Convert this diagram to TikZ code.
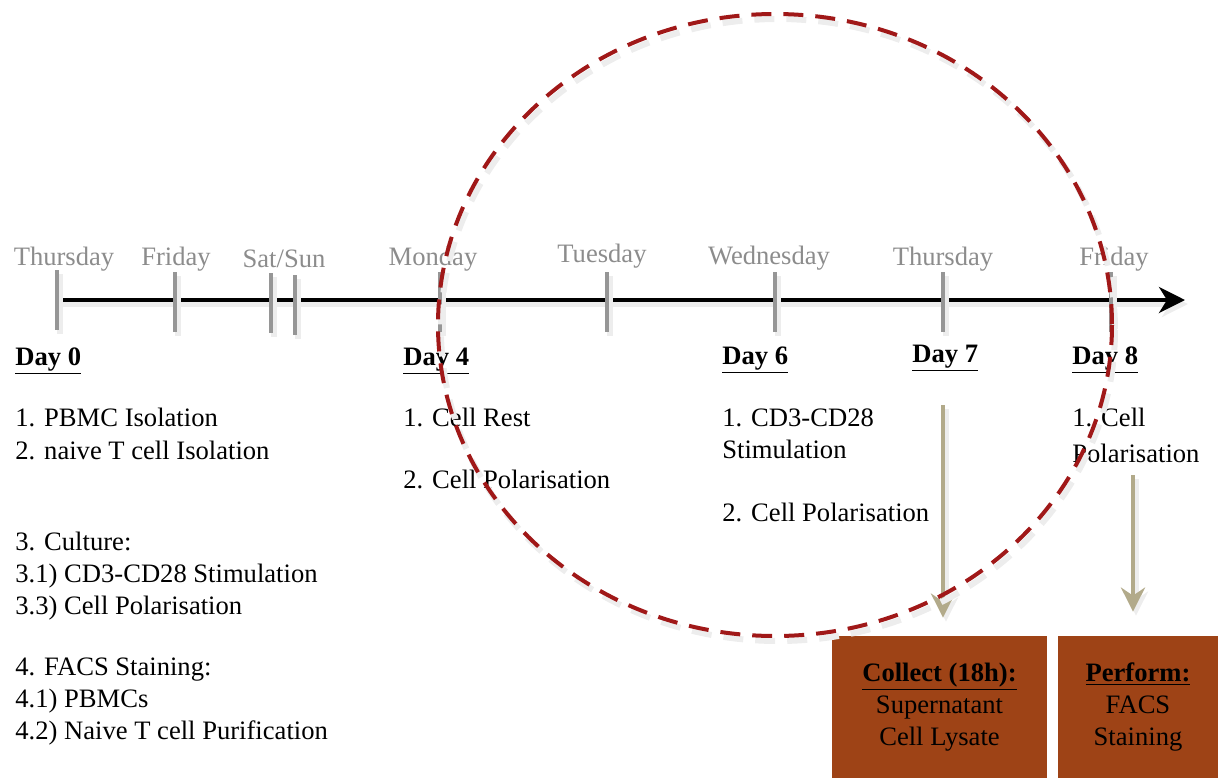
\documentclass[tikz,border=0pt]{standalone}
\usepackage{fontspec}
\setmainfont{Liberation Serif}
\usetikzlibrary{positioning,arrows.meta}
\definecolor{daygray}{RGB}{140,140,140}
\definecolor{tickgray}{RGB}{150,150,150}
\definecolor{boxbrown}{RGB}{158,67,22}
\definecolor{arrowtan}{RGB}{178,170,138}
\definecolor{ringred}{RGB}{160,24,24}

\begin{document}
\begin{tikzpicture}[x=0.5pt,y=-0.5pt,
  every node/.style={font=\fontsize{13.3}{16}\selectfont, inner sep=0pt},
  txt/.style={anchor=base west},
  weekday/.style={anchor=base, text=daygray},
  dayhead/.style={anchor=base west, font=\fontsize{13.3}{16}\selectfont\bfseries},
  tick/.style={draw=tickgray, line width=2pt},
  shade/.style={preaction={draw=black!7, line width=3pt, transform canvas={xshift=1.5pt,yshift=-2pt}}},
  ringshade/.style={preaction={draw=black!7, line width=3pt, dash pattern=on 10pt off 6pt,
                               transform canvas={xshift=1.5pt,yshift=-2.5pt}}},
  stepbox/.style={fill=boxbrown, align=center, minimum height=71pt},
  down/.style={draw=arrowtan, line width=2pt, -{Stealth[length=12pt,width=12pt,inset=4pt]}}
]
\useasboundingbox (0,0) rectangle (1223,778);

% Time line
\coordinate (t0) at (57,300);
\coordinate (tend) at (1185,300);
\draw[line width=2pt, -{Stealth[length=13pt,width=13pt,inset=4pt]}, shade] (t0) -- (tend);

% Ticks
\foreach \x/\a/\b in {57/270/330, 175/272/332, 271/273/333, 295/275/335, 440/272/332,
                      607/272/332, 775/272/332, 943/272/332, 1111/272/332} {
  \draw[tick, shade] (\x,\a) -- (\x,\b);
}

% Weekdays
\foreach \x/\y/\name/\lbl in {64/256/thuA/Thursday, 176/256/friA/Friday,
                              433/256/mon/Monday, 602/253/tue/Tuesday, 769/255/wed/Wednesday,
                              943/256/thuB/Thursday, 1114/256/friB/Friday} {
  \node[weekday] (\name) at (\x,\y+9) {\lbl};
}
\node[weekday] (satsun) at (284,267) {Sat/Sun};

% Day headers
\node[dayhead] (day0) at (15,365) {\underline{Day 0}};
\node[dayhead] (day4) at (403,365) {\underline{Day 4}};
\node[dayhead] (day6) at (722,364) {\underline{Day 6}};
\node[dayhead] (day7) at (912,362) {\underline{Day 7}};
\node[dayhead] (day8) at (1072,364) {\underline{Day 8}};

% Day 0 tasks
\foreach \y/\name/\lbl in {417/pbmc/1. PBMC Isolation, 450/naive/2. naive T cell Isolation,
                           541/cult/3. Culture:, 573/stim/3.1) CD3-CD28 Stimulation,
                           605/polA/3.3) Cell Polarisation, 666/facs/4. FACS Staining:,
                           698/pbmcs/4.1) PBMCs, 730/purif/4.2) Naive T cell Purification} {
  \node[txt] (\name) at (15,\y+9) {\lbl};
}

% Day 4 tasks
\node[txt] (rest) at (403,426) {1. Cell Rest};
\node[txt] (polB) at (403,488) {2. Cell Polarisation};

% Day 6 tasks
\node[txt] (cdA) at (722,426) {1. CD3-CD28};
\node[txt] (cdB) at (722,458) {Stimulation};
\node[txt] (polC) at (722,521) {2. Cell Polarisation};

% Day 8 tasks
\node[txt] (cellA) at (1072,426) {1. Cell};
\node[txt] (cellB) at (1072,462) {Polarisation};

% Read-out boxes
\node[stepbox, minimum width=107.5pt] (collect) at (939.5,707)
  {\underline{\textbf{Collect (18h):}}\\Supernatant\\Cell Lysate};
\node[stepbox, minimum width=80pt] (perform) at (1138,707)
  {\underline{\textbf{Perform:}}\\FACS\\Staining};

% Arrows down to boxes
\coordinate (a7) at (943,405);
\coordinate (a8) at (1133,475);
\draw[down, shade, shorten >=9pt] (a7) -- (a7 |- collect.north);
\draw[down, shade, shorten >=12pt] (a8) -- (a8 |- perform.north);

% Dashed ring
\draw[ringred, line width=2pt, dash pattern=on 10pt off 6pt, ringshade] (775,325) ellipse [x radius=337, y radius=311];

\end{tikzpicture}
\end{document}
